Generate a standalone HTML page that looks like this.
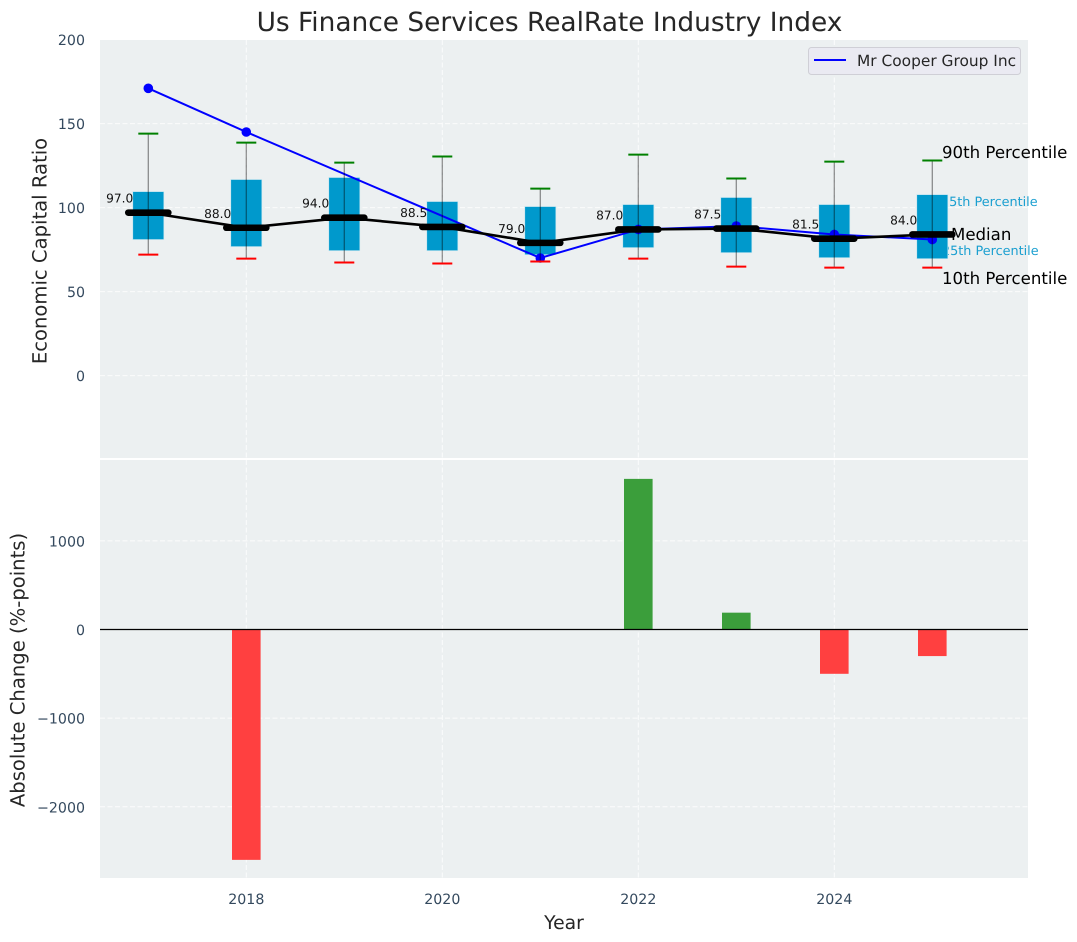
<!DOCTYPE html>
<html>
<head>
<meta charset="utf-8">
<style>
html,body{margin:0;padding:0;background:#fff;width:1077px;height:942px;overflow:hidden}
svg{display:block}
text{font-family:"DejaVu Sans","Liberation Sans",sans-serif;text-rendering:geometricPrecision}
</style>
</head>
<body>
<svg id="chart" xmlns="http://www.w3.org/2000/svg" width="1077" height="942" viewBox="0 0 1077 942">
  <rect x="0" y="0" width="1077" height="942" fill="#ffffff"/>
  <rect x="100" y="40" width="928" height="418" fill="#ecf0f1"/>
  <rect x="100" y="460" width="928" height="418" fill="#ecf0f1"/>
  <g id="grid"></g>
  <g id="ticks"></g>
  <g id="pct-labels">
    <text x="941" y="206" font-size="12.8" fill="#1a9fd0">75th Percentile</text>
    <text x="942" y="255" font-size="12.8" fill="#1a9fd0">25th Percentile</text>
  </g>
  <g id="boxes"></g>
  <g id="bars"></g>
  <line x1="100" x2="1028" y1="629.5" y2="629.5" stroke="#000" stroke-width="1.2"/>
  <g id="labels">
    <text x="942" y="158" font-size="16.6" fill="#000">90th Percentile</text>
    <text x="951" y="240" font-size="16.6" fill="#000">Median</text>
    <text x="942" y="284" font-size="16.6" fill="#000">10th Percentile</text>
  </g>
  <text x="549.5" y="31" font-size="26.4" text-anchor="middle" fill="#262626">Us Finance Services RealRate Industry Index</text>
  <text x="46.5" y="251" font-size="19.6" text-anchor="middle" fill="#262626" transform="rotate(-90 46.5 251)">Economic Capital Ratio</text>
  <text x="24.5" y="670" font-size="19.6" text-anchor="middle" fill="#262626" transform="rotate(-90 24.5 670)">Absolute Change (%-points)</text>
  <text x="564" y="929" font-size="18.8" text-anchor="middle" fill="#262626">Year</text>
  <g>
    <rect x="808.5" y="47.5" width="212" height="27" rx="3" fill="#eaeaf2" stroke="#cfcfd6"/>
    <line x1="814" x2="846" y1="60" y2="60" stroke="#0000ff" stroke-width="2"/>
    <text x="857" y="66" font-size="15.4" fill="#262626">Mr Cooper Group Inc</text>
  </g>
</svg>
<script>
var years = [2017, 2018, 2019, 2020, 2021, 2022, 2023, 2024, 2025];
var p90 = [144, 138.7, 126.8, 130.4, 111.3, 131.5, 117.3, 127.4, 128];
var p75 = [109.5, 116.7, 117.9, 103.6, 100.6, 101.8, 106, 101.8, 107.7];
var medians = [97, 88, 94, 88.5, 79, 87, 87.5, 81.5, 84];
var p25 = [81, 76.8, 74.4, 74.4, 72, 76.2, 73.2, 70.2, 69.6];
var p10 = [72, 69.6, 67.3, 66.7, 67.9, 69.6, 64.9, 64.3, 64.3];
var company = [171, 145, null, null, 70, 87, 89, 84, 81];
var changes = [null, -2600, null, null, null, 1700, 190, -500, -300];
var topTicks = [0, 50, 100, 150, 200];
var bottomTicks = [-2000, -1000, 0, 1000];
var xTicks = [2018, 2020, 2022, 2024];

function xScale(v) { return 148.3 + (v - 2017) * 98; }
function yTop(v) { return 375.6 - v * 1.68; }
function yBottom(v) { return 629.5 - v * 0.0886; }
function mk(parent, tag, attrs, content) {
  var el = document.createElementNS('http://www.w3.org/2000/svg', tag);
  for (var k in attrs) el.setAttribute(k, attrs[k]);
  if (content !== undefined) el.textContent = content;
  document.getElementById(parent).appendChild(el);
  return el;
}
function fmtTick(v) { return v < 0 ? '\u2212' + Math.abs(v) : String(v); }

topTicks.forEach(function (t) {
  var y = yTop(t);
  if (t !== 200) {
    var g = mk('grid', 'line', {x1: 100, x2: 1028, y1: y, y2: y, stroke: '#fff', 'stroke-width': 1, 'stroke-dasharray': '5 2.5', opacity: 0.8});
    
    
  }
  var l = mk('ticks', 'text', {x: 85, y: y + 5.6, 'font-size': 14.2, fill: '#34495e', 'text-anchor': 'end'}, fmtTick(t));
  
  
});
bottomTicks.forEach(function (t) {
  var y = yBottom(t);
  if (t !== 0) {
    var g = mk('grid', 'line', {x1: 100, x2: 1028, y1: y, y2: y, stroke: '#fff', 'stroke-width': 1, 'stroke-dasharray': '5 2.5', opacity: 0.8});
    
    
  }
  var l = mk('ticks', 'text', {x: 85, y: y + 5.6, 'font-size': 14.2, fill: '#34495e', 'text-anchor': 'end'}, fmtTick(t));
  
  
});
xTicks.forEach(function (t) {
  var x = xScale(t);
  var g1 = mk('grid', 'line', {x1: x, x2: x, y1: 40, y2: 458, stroke: '#fff', 'stroke-width': 1, 'stroke-dasharray': '5 2.5', opacity: 0.8});
  
  
  var g2 = mk('grid', 'line', {x1: x, x2: x, y1: 460, y2: 878, stroke: '#fff', 'stroke-width': 1, 'stroke-dasharray': '5 2.5', opacity: 0.8});
  
  
  var l = mk('ticks', 'text', {x: x, y: 904, 'font-size': 14.2, fill: '#34495e', 'text-anchor': 'middle'}, String(t));
  
  
});

years.forEach(function (yr, i) {
  var x = xScale(yr);
  var box = mk('boxes', 'rect', {x: x - 15.5, y: yTop(p75[i]), width: 31, height: yTop(p25[i]) - yTop(p75[i]), fill: '#0099cc', stroke: '#bfe3ef', 'stroke-width': 0.6});
  
  
});

var pts = [];
years.forEach(function (yr, i) {
  if (company[i] !== null) pts.push(xScale(yr) + ',' + yTop(company[i]));
});
var companyLine = mk('boxes', 'polyline', {points: pts.join(' '), fill: 'none', stroke: '#0000ff', 'stroke-width': 2});


years.forEach(function (yr, i) {
  if (company[i] === null) return;
  var c = mk('boxes', 'circle', {cx: xScale(yr), cy: yTop(company[i]), r: 4.8, fill: '#0000ff'});
  
  
});

years.forEach(function (yr, i) {
  var x = xScale(yr);
  var w = mk('boxes', 'line', {x1: x, x2: x, y1: yTop(p90[i]), y2: yTop(p10[i]), stroke: '#000', 'stroke-opacity': 0.42, 'stroke-width': 1.3});
  
  
  var hi = mk('boxes', 'line', {x1: x - 10, x2: x + 10, y1: yTop(p90[i]), y2: yTop(p90[i]), stroke: '#008000', 'stroke-width': 2});
  
  
  var lo = mk('boxes', 'line', {x1: x - 10, x2: x + 10, y1: yTop(p10[i]), y2: yTop(p10[i]), stroke: '#ff0000', 'stroke-width': 2});
  
  
});

var medPts = years.map(function (yr, i) { return xScale(yr) + ',' + yTop(medians[i]); });
var medLine = mk('boxes', 'polyline', {points: medPts.join(' '), fill: 'none', stroke: '#000', 'stroke-width': 2.6});


years.forEach(function (yr, i) {
  var x = xScale(yr);
  var m = mk('boxes', 'line', {x1: x - 20, x2: x + 20, y1: yTop(medians[i]), y2: yTop(medians[i]), stroke: '#000', 'stroke-width': 6.6, 'stroke-linecap': 'round'});
  
  
  var t = mk('boxes', 'text', {x: x - 15, y: yTop(medians[i]) - 10, 'font-size': 12.2, fill: '#111', 'text-anchor': 'end'}, medians[i].toFixed(1));
  
  
});

years.forEach(function (yr, i) {
  if (changes[i] === null) return;
  var x = xScale(yr);
  var y0 = yBottom(0), y1 = yBottom(changes[i]);
  var b = mk('bars', 'rect', {x: x - 14.3, y: Math.min(y0, y1), width: 28.6, height: Math.abs(y1 - y0), fill: changes[i] < 0 ? '#ff4040' : '#3b9e3b'});
  
  
});
</script>
</body>
</html>
